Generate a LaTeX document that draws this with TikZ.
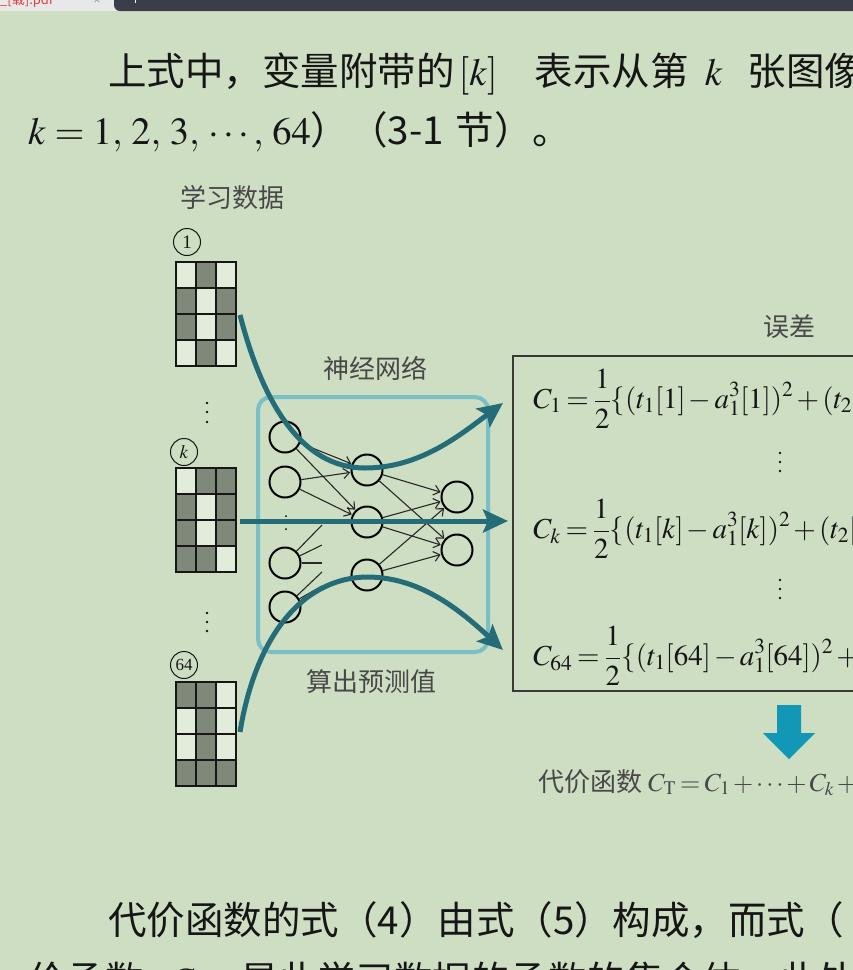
\documentclass[tikz,border=0pt]{standalone}
\usepackage{mathptmx}
\usepackage[no-math]{fontspec}
\setmainfont{Liberation Serif}
\newfontfamily\cjk{Noto Sans CJK SC}
\usepackage{tikz}
\usetikzlibrary{arrows.meta}
\usepackage{xcolor}
\definecolor{pagegreen}{RGB}{206,222,195}
\definecolor{tablight}{RGB}{232,232,232}
\definecolor{tabdark}{RGB}{59,62,74}
\definecolor{tabred}{RGB}{214,64,64}
\definecolor{inkblack}{RGB}{22,22,22}
\definecolor{labelgray}{RGB}{72,72,72}
\definecolor{celldark}{RGB}{126,137,121}
\definecolor{celllight}{RGB}{226,236,218}
\definecolor{linkgray}{RGB}{40,40,40}
\definecolor{flowteal}{RGB}{35,108,120}
\definecolor{frameblue}{RGB}{122,190,198}
\definecolor{downblue}{RGB}{18,152,182}
\newcommand\tightmath{\medmuskip=2mu\relax\thickmuskip=3mu\relax}

\begin{document}
\begin{tikzpicture}[x=1pt,y=-1pt,
    bodytext/.style={anchor=base west,inner sep=0pt,text=inkblack,font=\cjk\fontsize{38.5}{44}\selectfont},
    label/.style={text=labelgray,font=\cjk\fontsize{26}{30}\selectfont},
    numcirc/.style={circle,draw=inkblack,line width=1pt,minimum size=27pt,inner sep=0pt,text=inkblack,font=\fontsize{19}{19}\selectfont},
    gridline/.style={draw=inkblack,line width=1.8pt},
    neuron/.style={circle,draw=black,line width=2pt,minimum size=31pt,inner sep=0pt},
    link/.style={draw=linkgray,line width=1.1pt,-{Straight Barb[length=6pt,width=10pt]},shorten >=0.5pt},
    stub/.style={draw=linkgray,line width=1.1pt},
    flow/.style={draw=flowteal,line width=5pt,-{Stealth[length=25pt,width=23pt,inset=5pt]}},
    formula/.style={anchor=west,inner sep=0pt,text=inkblack,font=\fontsize{29}{34}\selectfont}]
  \useasboundingbox (0,0) rectangle (853,970);
  \clip (0,0) rectangle (853,970);
  % page and viewer tab
  \fill[pagegreen] (0,0) rectangle (853,970);
  \fill[tablight] (0,0) rectangle (125,11);
  \fill[tabdark,rounded corners=6pt] (114,-20) rectangle (880,11);
  \node[anchor=base west,inner sep=0pt,text=tabred,font=\cjk\fontsize{13}{13}\selectfont] (tabname) at (0,4) {\_[载].pdf};
  \node[anchor=base,inner sep=0pt,text=gray,font=\fontsize{13}{13}\selectfont] (tabclose) at (97,4) {×};
  \draw[white,line width=1pt] (135,0) -- (135,3);

  % text above
  \node[bodytext] (para1) at (108,85) {上式中，变量附带的\hspace{4pt}$[k]$\hspace{37pt}表示从第\hspace{16pt}$k$\hspace{25pt}张图像};
  \node[bodytext] (para2) at (28,144) {$k=1,\,2,\,3,\,\cdots,\,64$）（3-1\hspace{12pt}节）。};

  % training data
  \node[label] (datalbl) at (232,198) {学习数据};
  \node[numcirc] (no1) at (187,242) {1};
  \node[numcirc] (nok) at (184,452) {$k$};
  \node[numcirc,font=\fontsize{17}{17}\selectfont] (no64) at (184,665) {64};
  \foreach \gy/\cells in {262/{1/0,0/1,2/1,0/2,2/2,1/3},
                          468/{1/0,2/0,0/1,2/1,0/2,2/2,0/3,1/3},
                          682/{0/0,1/0,1/1,1/2,0/3,1/3,2/3}}{
    \fill[celllight] (176,\gy) rectangle ++(60,104);
    \foreach \c/\r in \cells
      \fill[celldark] ({176+20*\c},{\gy+26*\r}) rectangle ++(20,26);
    \foreach \c in {0,1,2}
      \foreach \r in {0,...,3}
        \draw[gridline] ({176+20*\c},{\gy+26*\r}) rectangle ++(20,26);
  }
  \foreach \y in {403,412,422,613,622,631}
    \fill[inkblack] (207,\y) circle (1.4);

  % network
  \node[draw=frameblue,line width=4pt,rounded corners=13pt,minimum width=230pt,minimum height=255pt] (net) at (373,524.5) {};
  \node[label] (netlbl) at (375,368) {神经网络};
  \node[label] (predlbl) at (371,682) {算出预测值};
  \node[neuron] (in1) at (285,437) {};
  \node[neuron] (in2) at (285,482) {};
  \node[neuron] (in3) at (285,563) {};
  \node[neuron] (in4) at (285,607) {};
  \fill (286,516) circle (1);
  \fill (286,529) circle (1);
  \node[neuron] (hid1) at (367,470) {};
  \node[neuron] (hid2) at (367,522) {};
  \node[neuron] (hid3) at (367,575) {};
  \node[neuron] (out1) at (457,497) {};
  \node[neuron] (out2) at (457,550) {};
  \foreach \a in {in1,in2}
    \foreach \b in {hid1,hid2}
      \draw[link] (\a) -- (\b);
  \foreach \a in {hid1,hid2,hid3}
    \foreach \b in {out1,out2}
      \draw[link] (\a) -- (\b);
  \coordinate (s1) at (322,525);
  \coordinate (s2) at (322,545);
  \coordinate (s3) at (322,563);
  \coordinate (s4) at (322,572);
  \coordinate (s5) at (322,586);
  \foreach \s in {s1,s2,s3}
    \draw[stub] (in3) -- (\s);
  \foreach \s in {s4,s5}
    \draw[stub] (in4) -- (\s);

  % data flows
  \coordinate (src1) at (240,315);
  \coordinate (srck) at (240,521);
  \coordinate (src64) at (240,732);
  \coordinate (dst1) at (503,403);
  \coordinate (dstk) at (508,521);
  \coordinate (dst64) at (503,650);
  \draw[flow] (src1) .. controls (262,400) and (300,468) .. (365,468)
              .. controls (420,468) and (460,435) .. (dst1);
  \draw[flow] (srck) -- (dstk);
  \draw[flow] (src64) .. controls (255,640) and (300,578) .. (367,577)
              .. controls (420,577) and (460,610) .. (dst64);

  % errors
  \node[label] (errlbl) at (789,327) {误差};
  \node[draw=inkblack!85,line width=1.6pt,anchor=north west,minimum width=400pt,minimum height=335pt] (errbox) at (512,355) {};
  \node[formula] (c1) at (533,399) {\tightmath$\displaystyle C_1=\frac{1}{2}\{(t_1[1]-a_1^3[1])^2+(t_2[1]-a_2^3[1])^2\}$};
  \node[formula] (ck) at (533,529) {\tightmath$\displaystyle C_k=\frac{1}{2}\{(t_1[k]-a_1^3[k])^2+(t_2[k]-a_2^3[k])^2\}$};
  \node[formula] (c64) at (533,656) {\tightmath$\displaystyle C_{64}=\frac{1}{2}\{(t_1[64]-a_1^3[64])^2+(t_2[64]-a_2^3[64])^2\}$};
  \foreach \y in {453,462,471,580,589,598}
    \fill[inkblack] (780,\y) circle (1.3);

  % cost function
  \fill[downblue] (777,705) -- (801,705) -- (801,733) -- (815,733) -- (789,759)
                  -- (763,733) -- (777,733) -- cycle;
  \node[anchor=base west,inner sep=0pt,text=labelgray,font=\cjk\fontsize{26}{30}\selectfont] (cost) at (538,791) {代价函数\hspace{6pt}\tightmath$C_{\mathrm{T}}=C_1+\cdots+C_k+\cdots+C_{64}$};

  % text below
  \node[bodytext] (para3) at (108,934) {代价函数的式（4）由式（5）构成，而式（};
  \node[bodytext] (para4) at (28,994) {价函数\hspace{26pt}$C_{\mathrm{T}}$\hspace{30pt}是此学习数据的函数的集合体，此处};
\end{tikzpicture}
\end{document}
